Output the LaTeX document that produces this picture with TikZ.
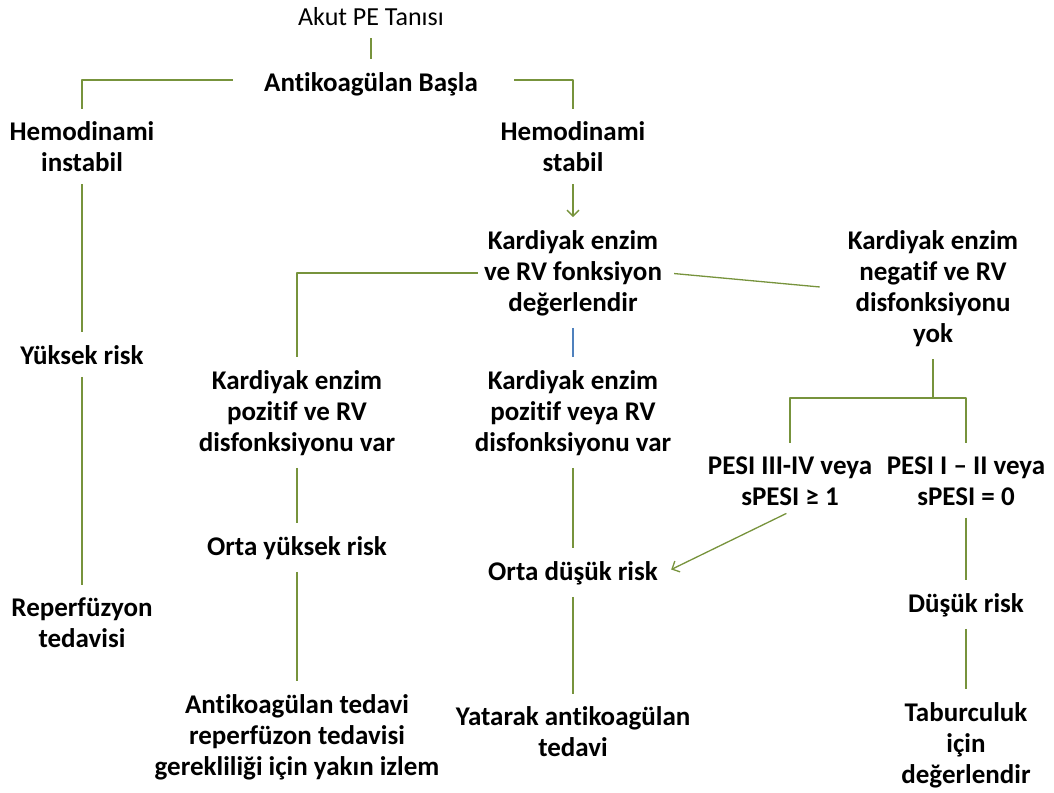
\documentclass[tikz,border=0pt]{standalone}
\usepackage{fontspec}
\setmainfont{Carlito}[Ligatures=NoCommon]
\usetikzlibrary{arrows.meta}
\definecolor{lineg}{RGB}{119,147,60}
\definecolor{lineb}{RGB}{79,129,189}
\begin{document}
\begin{tikzpicture}[x=1pt,y=-1pt, line join=round,
  box/.style={align=center,font=\bfseries\fontsize{27}{31}\selectfont,inner sep=6pt},
  conn/.style={draw=lineg,line width=1.3pt,shorten <=6pt,shorten >=7pt},
  arr/.style={conn,-{Straight Barb[length=6pt,width=12pt]}}]
\useasboundingbox (0,0) rectangle (1054,792);
% top
\node[box,font=\fontsize{26}{31}\selectfont] (akut) at (371,17) {Akut PE Tanısı};
\node[box] (basla) at (371,84) {Antikoagülan Başla};
\node[box] (instabil) at (82,147) {Hemodinami\\instabil};
\node[box] (stabil) at (573,147) {Hemodinami\\stabil};
% left column
\node[box] (yuksek) at (82,355) {Yüksek risk};
\node[box] (reperf) at (82,623) {Reperfüzyon\\tedavisi};
% middle
\node[box] (kdeg) at (573,273) {Kardiyak enzim\\ve RV fonksiyon\\değerlendir};
\node[box] (kpozve) at (297,413) {Kardiyak enzim\\pozitif ve RV\\disfonksiyonu var};
\node[box] (kpozveya) at (573,413) {Kardiyak enzim\\pozitif veya RV\\disfonksiyonu var};
\node[box] (ortay) at (297,548) {Orta yüksek risk};
\node[box] (ortad) at (573,573) {Orta düşük risk};
\node[box] (izlem) at (297,737) {Antikoagülan tedavi\\reperfüzon tedavisi\\gerekliliği için yakın izlem};
\node[box] (yatarak) at (573,732) {Yatarak antikoagülan\\tedavi};
% right
\node[box] (kneg) at (933,289) {Kardiyak enzim\\negatif ve RV\\disfonksiyonu\\yok};
\node[box] (pesia) at (790,481) {PESI III-IV veya\\sPESI ≥ 1};
\node[box] (pesib) at (966,481) {PESI I – II veya\\sPESI = 0};
\node[box] (dusuk) at (966,605) {Düşük risk};
\node[box] (tabur) at (966,745) {Taburculuk\\için\\değerlendir};
\coordinate (split) at (933,398);

\draw[conn] (akut.south) -- (basla.north);
\draw[conn,shorten <=25pt] ([yshift=4pt]basla.west) -| (instabil.north);
\draw[conn,shorten <=30pt] ([yshift=4pt]basla.east) -| (stabil.north);
\draw[arr] (stabil.south) -- (kdeg.north);
\draw[conn] (instabil.south) -- (yuksek.north);
\draw[conn] (yuksek.south) -- (reperf.north);
\draw[conn,shorten <=0pt] (kdeg.west) -| (kpozve.north);
\draw[conn,shorten >=22pt] (kdeg.east) -- (kneg.west);
\draw[conn,draw=lineb] (kdeg.south) -- (kpozveya.north);
\draw[conn] (kpozve.south) -- (ortay.north);
\draw[conn] (ortay.south) -- (izlem.north);
\draw[conn] (kpozveya.south) -- (ortad.north);
\draw[conn] (ortad.south) -- (yatarak.north);
\draw[conn,shorten >=0pt] (kneg.south) -- (split);
\draw[conn,shorten <=0pt] (split) -| (pesia.north);
\draw[conn,shorten <=0pt] (split) -| (pesib.north);
\draw[arr,shorten <=4pt,shorten >=8pt] (pesia.south) -- (ortad.east);
\draw[conn] (pesib.south) -- (dusuk.north);
\draw[conn] (dusuk.south) -- (tabur.north);
\end{tikzpicture}
\end{document}
